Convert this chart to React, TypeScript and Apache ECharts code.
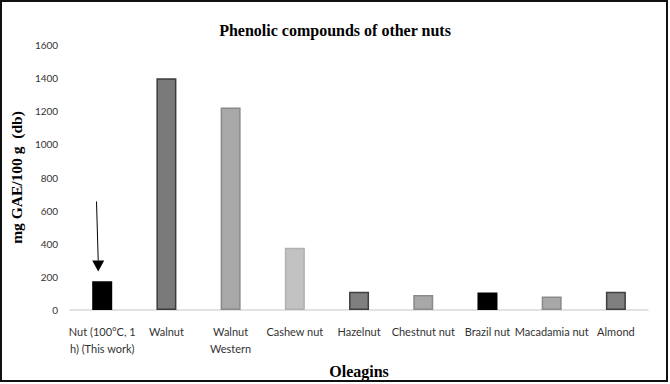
import React, { useEffect, useRef } from "react";
import * as echarts from "echarts";

const categories = [
  "Nut (100°C, 1\nh) (This work)",
  "Walnut",
  "Walnut\nWestern",
  "Cashew nut",
  "Hazelnut",
  "Chestnut nut",
  "Brazil nut",
  "Macadamia nut",
  "Almond",
];
const values = [173, 1400, 1222, 376, 110, 90, 105, 81, 110];
const fills = ["#000000", "#7a7a7a", "#a8a8a8", "#c2c2c2", "#7f7f7f", "#a8a8a8", "#000000", "#a8a8a8", "#7f7f7f"];
const borders = ["#000000", "#3c3c3c", "#8a8a8a", "#b0b0b0", "#404040", "#8a8a8a", "#000000", "#8a8a8a", "#404040"];
const yTicks = [0, 200, 400, 600, 800, 1000, 1200, 1400, 1600];
const arrowFrom = 655;
const arrowTo = 232;
const arrowCategoryIndex = 0;

export default function App() {
  const ref = useRef<HTMLDivElement>(null);
  useEffect(() => {
    document.body.style.margin = "0";
    if (!ref.current) return;
    const chart = echarts.init(ref.current, null, { renderer: "svg" });
    const sans = "Lato, 'Liberation Sans', Arial, sans-serif";
    const serif = "'Liberation Serif', 'Times New Roman', serif";
    chart.setOption({
      animation: false,
      title: {
        text: "Phenolic compounds of other nuts",
        left: "center",
        top: 17,
        textStyle: { fontFamily: serif, fontWeight: "bold", fontSize: 16, color: "#000" },
      },
      grid: { left: 65, right: 22, top: 45, bottom: 68, containLabel: false },
      xAxis: {
        type: "category",
        data: categories,
        name: "Oleagins",
        nameLocation: "middle",
        nameGap: 53,
        nameTextStyle: { fontFamily: serif, fontWeight: "bold", fontSize: 16, color: "#000" },
        axisLine: { lineStyle: { color: "#d9d9d9", width: 1.5 } },
        axisTick: { show: false },
        axisLabel: {
          interval: 0,
          margin: 13,
          fontFamily: sans,
          fontSize: 11,
          lineHeight: 17,
          color: "#333",
        },
      },
      yAxis: {
        type: "value",
        min: yTicks[0],
        max: yTicks[yTicks.length - 1],
        interval: 200,
        name: "mg GAE/100 g  (db)",
        nameLocation: "middle",
        nameGap: 41,
        nameTextStyle: { fontFamily: serif, fontWeight: "bold", fontSize: 15.5, color: "#000" },
        axisLine: { show: false },
        axisTick: { show: false },
        splitLine: { show: false },
        axisLabel: {
          fontFamily: sans,
          fontSize: 10,
          color: "#333",
          margin: 12,
          formatter: (v: number) => String(v),
        },
      },
      series: [
        {
          type: "bar",
          barWidth: 20,
          data: values.map((v, i) => ({
            value: v,
            itemStyle: { color: fills[i], borderColor: borders[i], borderWidth: 1.5 },
          })),
        },
      ],
    });
    const top = chart.convertToPixel({ gridIndex: 0 }, [arrowCategoryIndex, arrowFrom]) as number[];
    const tip = chart.convertToPixel({ gridIndex: 0 }, [arrowCategoryIndex, arrowTo]) as number[];
    const headH = 11;
    const headW = 6;
    const tx = tip[0] - 4;
    chart.setOption({
      graphic: [
        {
          type: "line",
          shape: { x1: top[0] - 5.7, y1: top[1], x2: tx, y2: tip[1] - headH },
          style: { stroke: "#000", lineWidth: 1 },
        },
        {
          type: "polygon",
          shape: {
            points: [
              [tx - headW, tip[1] - headH],
              [tx + headW, tip[1] - headH],
              [tx, tip[1]],
            ],
          },
          style: { fill: "#000" },
        },
      ],
    });
    return () => chart.dispose();
  }, []);
  return (
    <div style={{ position: "relative", width: 670, height: 384, background: "#fff" }}>
      <div ref={ref} style={{ position: "absolute", left: 0, top: 0, width: 670, height: 384 }} />
      <div
        style={{
          position: "absolute",
          left: 0,
          top: 0,
          width: 668,
          height: 382,
          boxSizing: "border-box",
          border: "2px solid #111",
          pointerEvents: "none",
        }}
      />
    </div>
  );
}
